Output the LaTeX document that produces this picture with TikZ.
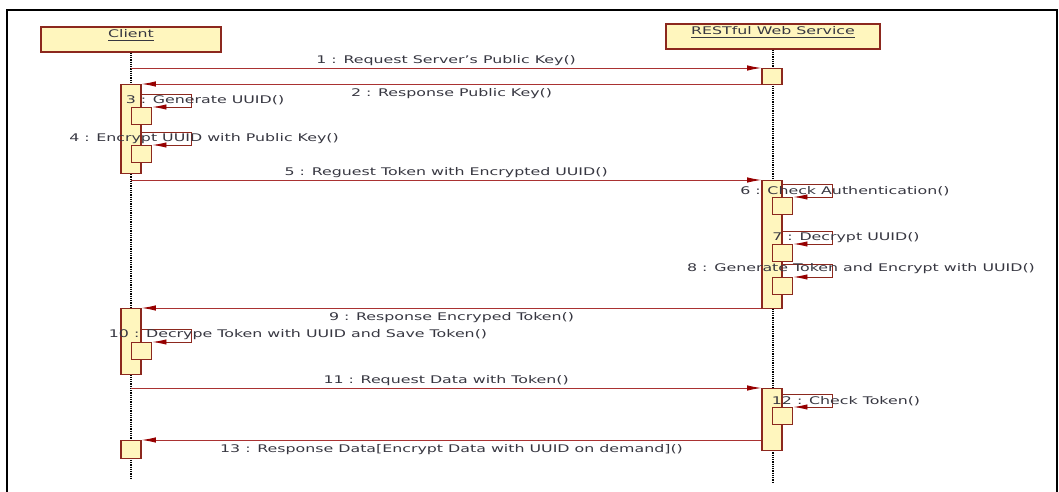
\documentclass[tikz,border=0pt]{standalone}
\usepackage{fontspec}
\setmainfont{DejaVu Sans}[FakeStretch=1.5]
\usepackage{tikz}
\usetikzlibrary{arrows.meta}

\definecolor{actfill}{RGB}{255,246,190}
\definecolor{actline}{RGB}{140,40,30}
\definecolor{msgline}{RGB}{170,50,50}
\definecolor{tipred}{RGB}{150,0,0}
\definecolor{txtgray}{RGB}{55,55,65}

\newcommand{\px}{0.025cm}

\tikzset{
	frameline/.style={line width=1.3pt, black},
	head/.style={draw=actline, fill=actfill, line width=1pt, minimum width=180*\px, inner ysep=0pt, text height=7.6pt, text depth=10.2pt, text=txtgray, font=\fontsize{7.5}{9}\selectfont},
	lifeline/.style={black, line width=0.85pt, dash pattern=on 0.8pt off 0.8pt},
	act/.style={draw=actline, fill=actfill, line width=1pt, minimum width=20*\px, inner sep=0pt, anchor=north},
	nested/.style={act, anchor=north west, minimum height=17*\px},
	msg/.style={draw=msgline, line width=0.6pt, -{Latex[length=10pt,width=3.8pt,color=tipred]}},
	selfmsg/.style={msg, draw=actline},
	lbl/.style={text=txtgray, font=\fontsize{7.5}{9}\selectfont, inner sep=1pt},
}

\begin{document}
\begin{tikzpicture}[x=0.025cm, y=-0.025cm]
	
	\useasboundingbox (0,0) rectangle (1059,492);
	\draw[frameline] (7,492) -- (7,10) -- (1057,10) -- (1057,492);
	
	\node[head] (client) at (131, 39.5) {\underline{Client}};
	\node[head, minimum width=214*\px] (server) at (773, 36.5) {\underline{RESTful Web Service}};
	
	\draw[lifeline] (client.south) -- ++(0,426);
	\draw[lifeline] (server.south) -- ++(0,433);
	
	\node[act, minimum height=16*\px] (s1) at (772, 68) {};
	\node[act, minimum height=89*\px] (c1) at (131, 84) {};
	\node[nested] (n3) at (131, 107) {};
	\node[nested] (n4) at (131, 145) {};
	\node[act, minimum height=128*\px] (s2) at (772, 180) {};
	\node[nested] (n6) at (772, 197) {};
	\node[nested] (n7) at (772, 244) {};
	\node[nested] (n8) at (772, 277) {};
	\node[act, minimum height=66*\px] (c2) at (131, 308) {};
	\node[nested] (n10) at (131, 342) {};
	\node[act, minimum height=62*\px] (s3) at (772, 388) {};
	\node[nested] (n12) at (772, 407) {};
	\node[act, minimum height=18*\px] (c3) at (131, 440) {};
	
	\draw[msg] (client.south |- s1.north) -- node[lbl, above] (t1) {1 : Request Server's Public Key()} (s1.north west);
	\draw[msg] (s1.west |- c1.north) -- node[lbl, below=2pt] (t2) {2 : Response Public Key()} (c1.north east);
	\draw[msg] (client.south |- s2.north) -- node[lbl, above] (t5) {5 : Reguest Token with Encrypted UUID()} (s2.north west);
	\draw[msg] (s2.west |- c2.north) -- node[lbl, below=2pt] (t9) {9 : Response Encryped Token()} (c2.north east);
	\draw[msg] (client.south |- s3.north) -- node[lbl, above] (t11) {11 : Request Data with Token()} (s3.north west);
	\draw[msg] (s3.west |- c3.north) -- node[lbl, below=2pt] (t13) {13 : Response Data[Encrypt Data with UUID on demand]()} (c3.north east);
	
	\draw[selfmsg] (c1.east |- n3.north) ++(0,-13) -| ++(50,13) -- (n3.north east);
	\draw[selfmsg] (c1.east |- n4.north) ++(0,-13) -| ++(50,13) -- (n4.north east);
	\draw[selfmsg] (s2.east |- n6.north) ++(0,-13) -| ++(50,13) -- (n6.north east);
	\draw[selfmsg] (s2.east |- n7.north) ++(0,-13) -| ++(50,13) -- (n7.north east);
	\draw[selfmsg] (s2.east |- n8.north) ++(0,-13) -| ++(50,13) -- (n8.north east);
	\draw[selfmsg] (c2.east |- n10.north) ++(0,-13) -| ++(50,13) -- (n10.north east);
	\draw[selfmsg] (s3.east |- n12.north) ++(0,-13) -| ++(50,13) -- (n12.north east);
	
	\node[lbl] (t3) at (205, 100) {3 : Generate UUID()};
	\node[lbl] (t4) at (204, 139) {4 : Encrypt UUID with Public Key()};
	\node[lbl] (t6) at (845, 191) {6 : Check Authentication()};
	\node[lbl] (t7) at (846, 238) {7 : Decrypt UUID()};
	\node[lbl] (t8) at (861, 269) {8 : Generate Token and Encrypt with UUID()};
	\node[lbl] (t10) at (298, 335) {10 : Decrype Token with UUID and Save Token()};
	\node[lbl] (t12) at (846, 401) {12 : Check Token()};
	
\end{tikzpicture}
\end{document}
